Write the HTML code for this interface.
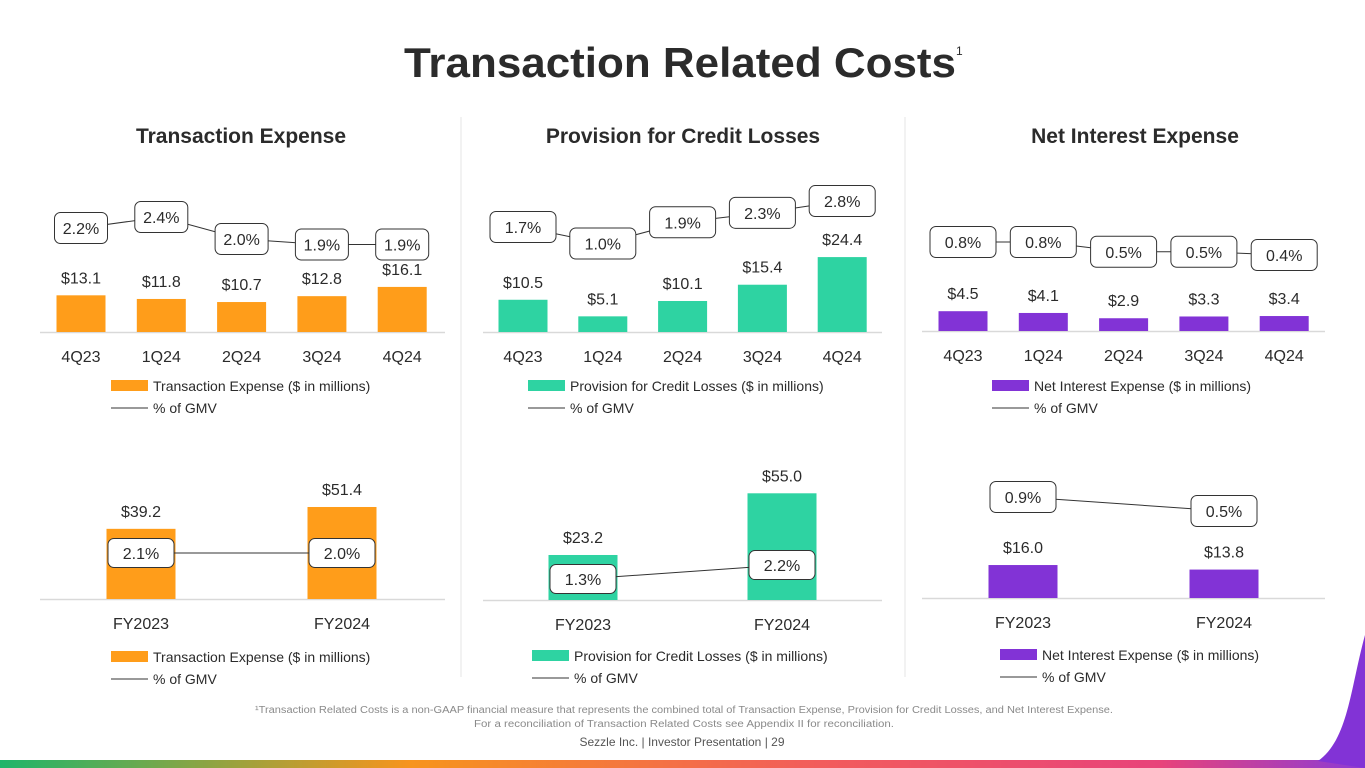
<!DOCTYPE html>
<html><head><meta charset="utf-8"><style>
html,body{margin:0;padding:0;background:#fff;}
svg{display:block;font-family:"Liberation Sans",sans-serif;}
</style></head><body>
<svg id="s" width="1365" height="768" viewBox="0 0 1365 768" xmlns="http://www.w3.org/2000/svg">
<defs>
<linearGradient id="bg" x1="0" x2="1" y1="0" y2="0">
<stop offset="0" stop-color="#1fb56a"/><stop offset="0.3" stop-color="#f7941d"/><stop offset="0.6" stop-color="#f25c5c"/><stop offset="0.85" stop-color="#e8437a"/><stop offset="1" stop-color="#8b3bd6"/>
</linearGradient>
</defs>
<rect x="0" y="760" width="1365" height="8" fill="url(#bg)"/>
<path d="M1365 635 C1350 690 1348 740 1318 761 L1365 768 Z" fill="#8233d6"/>
<text x="680" y="77" text-anchor="middle" font-size="42" font-weight="bold" fill="#2b2b2b" textLength="552" lengthAdjust="spacingAndGlyphs">Transaction Related Costs</text>
<text x="956" y="55" font-size="12" fill="#2b2b2b">1</text>
<line x1="461" y1="117" x2="461" y2="677" stroke="#e6e6e6"/>
<line x1="905" y1="117" x2="905" y2="677" stroke="#e6e6e6"/>
<text x="241" y="143" text-anchor="middle" font-size="21" font-weight="bold" fill="#2b2b2b">Transaction Expense</text>
<text x="683" y="143" text-anchor="middle" font-size="21" font-weight="bold" fill="#2b2b2b">Provision for Credit Losses</text>
<text x="1135" y="143" text-anchor="middle" font-size="21" font-weight="bold" fill="#2b2b2b">Net Interest Expense</text>
<text x="684" y="713" text-anchor="middle" font-size="10" fill="#8a8a8a" textLength="858" lengthAdjust="spacingAndGlyphs">¹Transaction Related Costs is a non-GAAP financial measure that represents the combined total of Transaction Expense, Provision for Credit Losses, and Net Interest Expense.</text>
<text x="684" y="727" text-anchor="middle" font-size="10" fill="#8a8a8a" textLength="420" lengthAdjust="spacingAndGlyphs">For a reconciliation of Transaction Related Costs see Appendix II for reconciliation.</text>
<text x="682" y="746" text-anchor="middle" font-size="12" fill="#555">Sezzle Inc. | Investor Presentation | 29</text>
</svg>
<script>
const quarters = ["4Q23","1Q24","2Q24","3Q24","4Q24"];
const years = ["FY2023","FY2024"];
const txQ = [13.1,11.8,10.7,12.8,16.1];
const txQPct = [2.2,2.4,2.0,1.9,1.9];
const txY = [39.2,51.4];
const txYPct = [2.1,2.0];
const clQ = [10.5,5.1,10.1,15.4,24.4];
const clQPct = [1.7,1.0,1.9,2.3,2.8];
const clY = [23.2,55.0];
const clYPct = [1.3,2.2];
const niQ = [4.5,4.1,2.9,3.3,3.4];
const niQPct = [0.8,0.8,0.5,0.5,0.4];
const niY = [16.0,13.8];
const niYPct = [0.9,0.5];

const svg = document.getElementById('s');
const NS = 'http://www.w3.org/2000/svg';
function mk(tag, attrs, name, parent){
  const e = document.createElementNS(NS, tag);
  for (const k in attrs) e.setAttribute(k, attrs[k]);
  
  
  (parent||svg).appendChild(e);
  return e;
}
function txt(x,y,s,size,name,anchor,fill){
  const t = mk('text',{x:x,y:y,'font-size':size,fill:fill||'#2b2b2b','text-anchor':anchor||'middle'},name);
  t.textContent = s; return t;
}
function chart(c){
  const bx = i => c.x0 + i*c.step;
  const by = v => c.base - v*c.k;
  const py = p => c.pRef - (p - c.pRefVal)*c.pk;
  mk('line',{x1:c.ax0,x2:c.ax1,y1:c.base+0.5,y2:c.base+0.5,stroke:'#d9d9d9','stroke-width':1.5},c.id+'-axis');
  c.vals.forEach((v,i)=>{
    mk('rect',{x:bx(i)-c.bw/2,y:by(v),width:c.bw,height:v*c.k,fill:c.color},c.id+'-bar-'+c.cats[i].toLowerCase());
    txt(bx(i),by(v)-12,'$'+v.toFixed(1),16,c.id+'-value-'+c.cats[i].toLowerCase());
    txt(bx(i),c.base+30,c.cats[i],16,c.id+'-category-'+c.cats[i].toLowerCase());
  });
  let d='';
  c.pcts.forEach((p,i)=>{ d += (i?'L':'M')+bx(i)+' '+py(p); });
  mk('path',{d:d,fill:'none',stroke:'#333','stroke-width':1},c.id+'-pct-line');
  c.pcts.forEach((p,i)=>{
    mk('rect',{x:bx(i)-c.boxW/2,y:py(p)-c.boxH/2,width:c.boxW,height:c.boxH,rx:6,fill:'#fff',stroke:'#333','stroke-width':1},c.id+'-pct-box-'+c.cats[i].toLowerCase());
    txt(bx(i),py(p)+6,p.toFixed(1)+'%',16,c.id+'-pct-label-'+c.cats[i].toLowerCase());
  });
  mk('rect',{x:c.lx,y:c.ly-6,width:37,height:11,fill:c.color},c.id+'-legend-swatch');
  txt(c.lx+42,c.ly+5,c.label,14,c.id+'-legend-bars','start');
  mk('line',{x1:c.lx,x2:c.lx+37,y1:c.ly+22,y2:c.ly+22,stroke:'#333'},c.id+'-legend-line-swatch');
  txt(c.lx+42,c.ly+27,'% of GMV',14,c.id+'-legend-pct','start');
}
const O='#ff9d1a',G='#2ed3a2',P='#8233d6';
chart({id:'tx-q',cats:quarters,vals:txQ,pcts:txQPct,x0:81,step:80.3,bw:49,base:332,k:2.8,pRef:228,pRefVal:2.2,pk:55,ax0:40,ax1:445,color:O,boxW:53,boxH:31,lx:111,ly:386,label:'Transaction Expense ($ in millions)'});
chart({id:'cl-q',cats:quarters,vals:clQ,pcts:clQPct,x0:523,step:79.8,bw:49,base:332,k:3.07,pRef:227,pRefVal:1.7,pk:23.6,ax0:483,ax1:882,color:G,boxW:66,boxH:31,lx:528,ly:386,label:'Provision for Credit Losses ($ in millions)'});
chart({id:'ni-q',cats:quarters,vals:niQ,pcts:niQPct,x0:963,step:80.3,bw:49,base:331,k:4.4,pRef:242,pRefVal:0.8,pk:32.5,ax0:922,ax1:1325,color:P,boxW:66,boxH:31,lx:992,ly:386,label:'Net Interest Expense ($ in millions)'});
chart({id:'tx-y',cats:years,vals:txY,pcts:txYPct,x0:141,step:201,bw:69,base:599,k:1.79,pRef:553,pRefVal:2.1,pk:0.01,ax0:40,ax1:445,color:O,boxW:66,boxH:29,lx:111,ly:657,label:'Transaction Expense ($ in millions)'});
chart({id:'cl-y',cats:years,vals:clY,pcts:clYPct,x0:583,step:199,bw:69,base:600,k:1.94,pRef:579,pRefVal:1.3,pk:15.5,ax0:483,ax1:882,color:G,boxW:66,boxH:29,lx:532,ly:656,label:'Provision for Credit Losses ($ in millions)'});
chart({id:'ni-y',cats:years,vals:niY,pcts:niYPct,x0:1023,step:201,bw:69,base:598,k:2.06,pRef:497,pRefVal:0.9,pk:35,ax0:922,ax1:1325,color:P,boxW:66,boxH:31,lx:1000,ly:655,label:'Net Interest Expense ($ in millions)'});
</script>
</body></html>
